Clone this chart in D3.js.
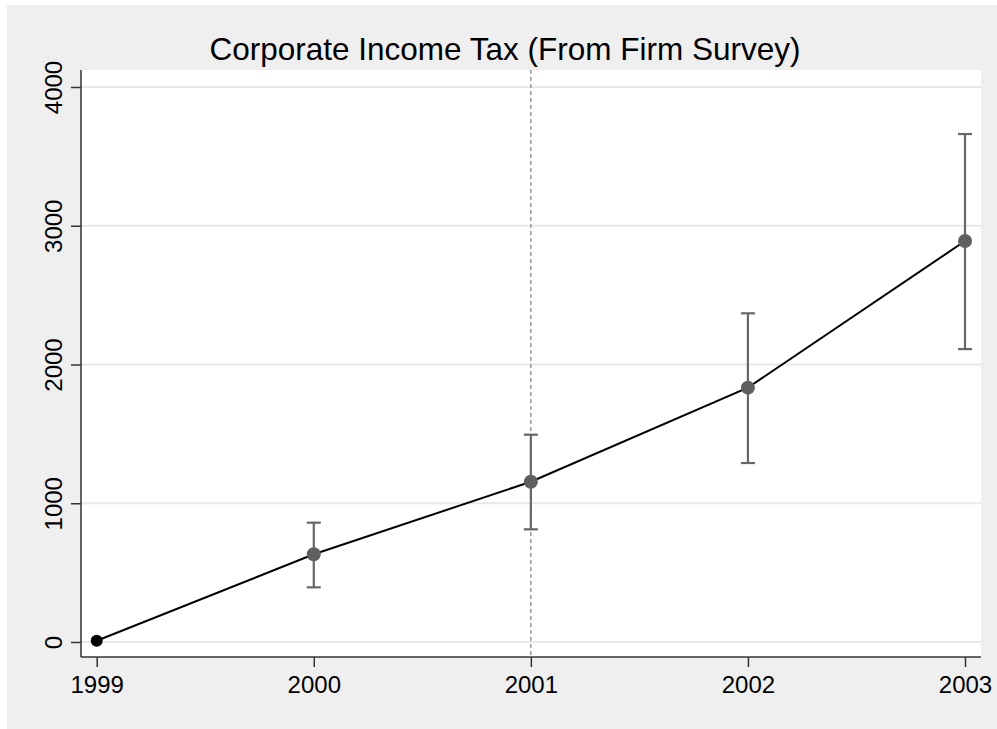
<!DOCTYPE html>
<html>
<head>
<meta charset="utf-8">
<script src="https://cdn.jsdelivr.net/npm/d3@7"></script>
<style>
  body { margin: 0; background: #fff; }
  text { font-family: "Liberation Sans", Arial, sans-serif; }
</style>
</head>
<body>
<svg id="chart" width="997" height="729"></svg>
<script>
// data
const years = [1999, 2000, 2001, 2002, 2003];
const estimate = [9, 632, 1155, 1833, 2890];
const ciLow = [null, 394, 812, 1290, 2111];
const ciHigh = [null, 860, 1494, 2369, 3661];
const yTicks = [0, 1000, 2000, 3000, 4000];
const refYear = 2001;
const title = 'Corporate Income Tax (From Firm Survey)';

const width = 997, height = 729;
const svg = d3.select('#chart');

const box = {left: 81, right: 981, top: 70, bottom: 657};

// outer grey frame
svg.append('rect')
  .attr('x', 7).attr('y', 5)
  .attr('width', width - 7).attr('height', height - 5)
  .style('fill', '#efefef');

// plot region
svg.append('rect')
  .attr('x', box.left).attr('y', box.top)
  .attr('width', box.right - box.left).attr('height', box.bottom - box.top)
  .style('fill', '#fff');

const x = d3.scaleLinear()
  .domain([1999, 2003])
  .range([96.7, 965]);
const y = d3.scaleLinear()
  .domain([0, 4000])
  .range([642, 87]);

// gridlines
svg.selectAll('.grid')
  .data(yTicks)
  .join('line')
    .attr('class', 'grid')
    .attr('x1', box.left).attr('x2', box.right)
    .attr('y1', d => y(d)).attr('y2', d => y(d))
    .style('stroke', '#e8e8e8')
    .style('stroke-width', 2);

// reference line
svg.append('line')
  .attr('x1', x(refYear)).attr('x2', x(refYear))
  .attr('y1', box.top).attr('y2', box.bottom)
  .style('stroke', '#808080')
  .style('stroke-width', 1.2)
  .style('stroke-dasharray', '4,3');

// axes
const xAxis = d3.axisBottom(x)
  .tickValues(years)
  .tickFormat(d3.format('d'))
  .tickSize(10)
  .tickSizeOuter(0);
const yAxis = d3.axisLeft(y)
  .tickValues(yTicks)
  .tickFormat(d3.format('d'))
  .tickSize(10)
  .tickSizeOuter(0);

const gx = svg.append('g')
  .attr('transform', 'translate(0,' + box.bottom + ')')
  .call(xAxis);
gx.select('.domain').attr('d', 'M' + box.left + ',0H' + box.right);
gx.selectAll('text')
  .attr('y', 36)
  .attr('dy', 0)
  .style('font-size', '24px')
  .style('fill', '#000');

const gy = svg.append('g')
  .attr('transform', 'translate(' + box.left + ',0)')
  .call(yAxis);
gy.select('.domain').attr('d', 'M0,' + box.top + 'V' + box.bottom);
gy.selectAll('.tick text')
  .attr('x', 0).attr('y', 0).attr('dy', 0)
  .attr('transform', 'translate(-19,0) rotate(-90)')
  .style('text-anchor', 'middle')
  .style('font-size', '24px')
  .style('fill', '#000');

svg.selectAll('.domain, .tick line')
  .style('stroke', '#333')
  .style('stroke-width', 1.5);

// error bars
const ci = years.map((yr, i) => ({year: yr, lo: ciLow[i], hi: ciHigh[i]}))
  .filter(d => d.lo != null);
const capW = 7;
const eb = svg.append('g')
  .style('stroke', '#666')
  .style('stroke-width', 2.2);
eb.selectAll('.bar')
  .data(ci)
  .join('line')
    .attr('x1', d => x(d.year)).attr('x2', d => x(d.year))
    .attr('y1', d => y(d.lo)).attr('y2', d => y(d.hi));
eb.selectAll('.capHi')
  .data(ci)
  .join('line')
    .attr('x1', d => x(d.year) - capW).attr('x2', d => x(d.year) + capW)
    .attr('y1', d => y(d.hi)).attr('y2', d => y(d.hi));
eb.selectAll('.capLo')
  .data(ci)
  .join('line')
    .attr('x1', d => x(d.year) - capW).attr('x2', d => x(d.year) + capW)
    .attr('y1', d => y(d.lo)).attr('y2', d => y(d.lo));

// line
const pts = years.map((yr, i) => ({year: yr, v: estimate[i]}));
svg.append('path')
  .datum(pts)
  .attr('d', d3.line().x(d => x(d.year)).y(d => y(d.v)))
  .style('fill', 'none')
  .style('stroke', '#000')
  .style('stroke-width', 2);

// dots
svg.selectAll('.dot')
  .data(pts)
  .join('circle')
    .attr('class', 'dot')
    .attr('cx', d => x(d.year))
    .attr('cy', d => y(d.v))
    .attr('r', (d, i) => i === 0 ? 6 : 7)
    .style('fill', (d, i) => i === 0 ? '#000' : '#5f5f5f');

// title
svg.append('text')
  .attr('x', 505)
  .attr('y', 60)
  .attr('text-anchor', 'middle')
  .style('font-size', '31.5px')
  .style('fill', '#000')
  .text(title);
</script>
</body>
</html>
